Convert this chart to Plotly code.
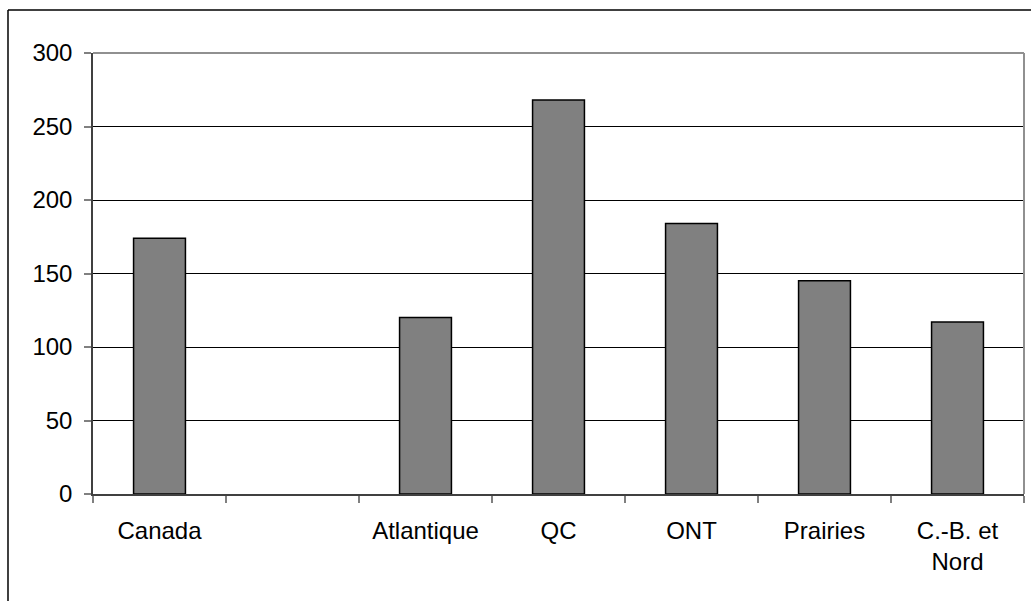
import plotly.graph_objects as go

categories = ["Canada", " ", "Atlantique", "QC", "ONT", "Prairies", "C.-B. et<br>Nord"]
values = [174, None, 120, 268, 184, 145, 117]
y_ticks = [0, 50, 100, 150, 200, 250, 300]

fig = go.Figure(
    go.Bar(
        x=categories,
        y=values,
        marker=dict(color="#808080", line=dict(color="black", width=1.5)),
        width=0.39,
        hoverinfo="x+y",
    )
)

font_family = "Liberation Sans, Arial, sans-serif"
label_font = dict(family=font_family, size=24, color="black")

fig.update_layout(
    width=1031,
    height=601,
    margin=dict(l=93, r=7, t=53, b=107),
    paper_bgcolor="white",
    plot_bgcolor="white",
    showlegend=False,
    font=label_font,
    shapes=[
        # outer frame: top and left edges
        dict(type="line", xref="paper", yref="paper", x0=-0.0913, x1=1.1, y0=1.0975, y1=1.0975,
             line=dict(color="black", width=1.5)),
        dict(type="line", xref="paper", yref="paper", x0=-0.0913, x1=-0.0913, y0=1.0975, y1=-0.3,
             line=dict(color="black", width=1.5)),
        # plot area right edge
        dict(type="line", xref="paper", yref="paper", x0=1, x1=1, y0=0, y1=1,
             line=dict(color="#909090", width=2)),
        # plot area top edge
        dict(type="line", xref="paper", yref="paper", x0=0, x1=1, y0=1, y1=1,
             line=dict(color="#909090", width=2)),
    ],
)

fig.update_xaxes(
    type="category",
    tickson="boundaries",
    ticks="outside",
    ticklen=7,
    tickcolor="#808080",
    tickwidth=1.5,
    showline=True,
    linecolor="#404040",
    linewidth=1.5,
    showgrid=False,
    tickfont=label_font,
    ticklabelstandoff=14,
    fixedrange=True,
)

fig.update_yaxes(
    range=[0, 300],
    tickvals=y_ticks,
    ticks="outside",
    ticklen=7,
    tickcolor="#808080",
    tickwidth=1.5,
    showline=True,
    linecolor="#404040",
    linewidth=1.5,
    showgrid=True,
    gridcolor="black",
    gridwidth=1,
    zeroline=False,
    tickfont=label_font,
    ticklabelstandoff=7,
    fixedrange=True,
)

fig.write_html("out.html")
